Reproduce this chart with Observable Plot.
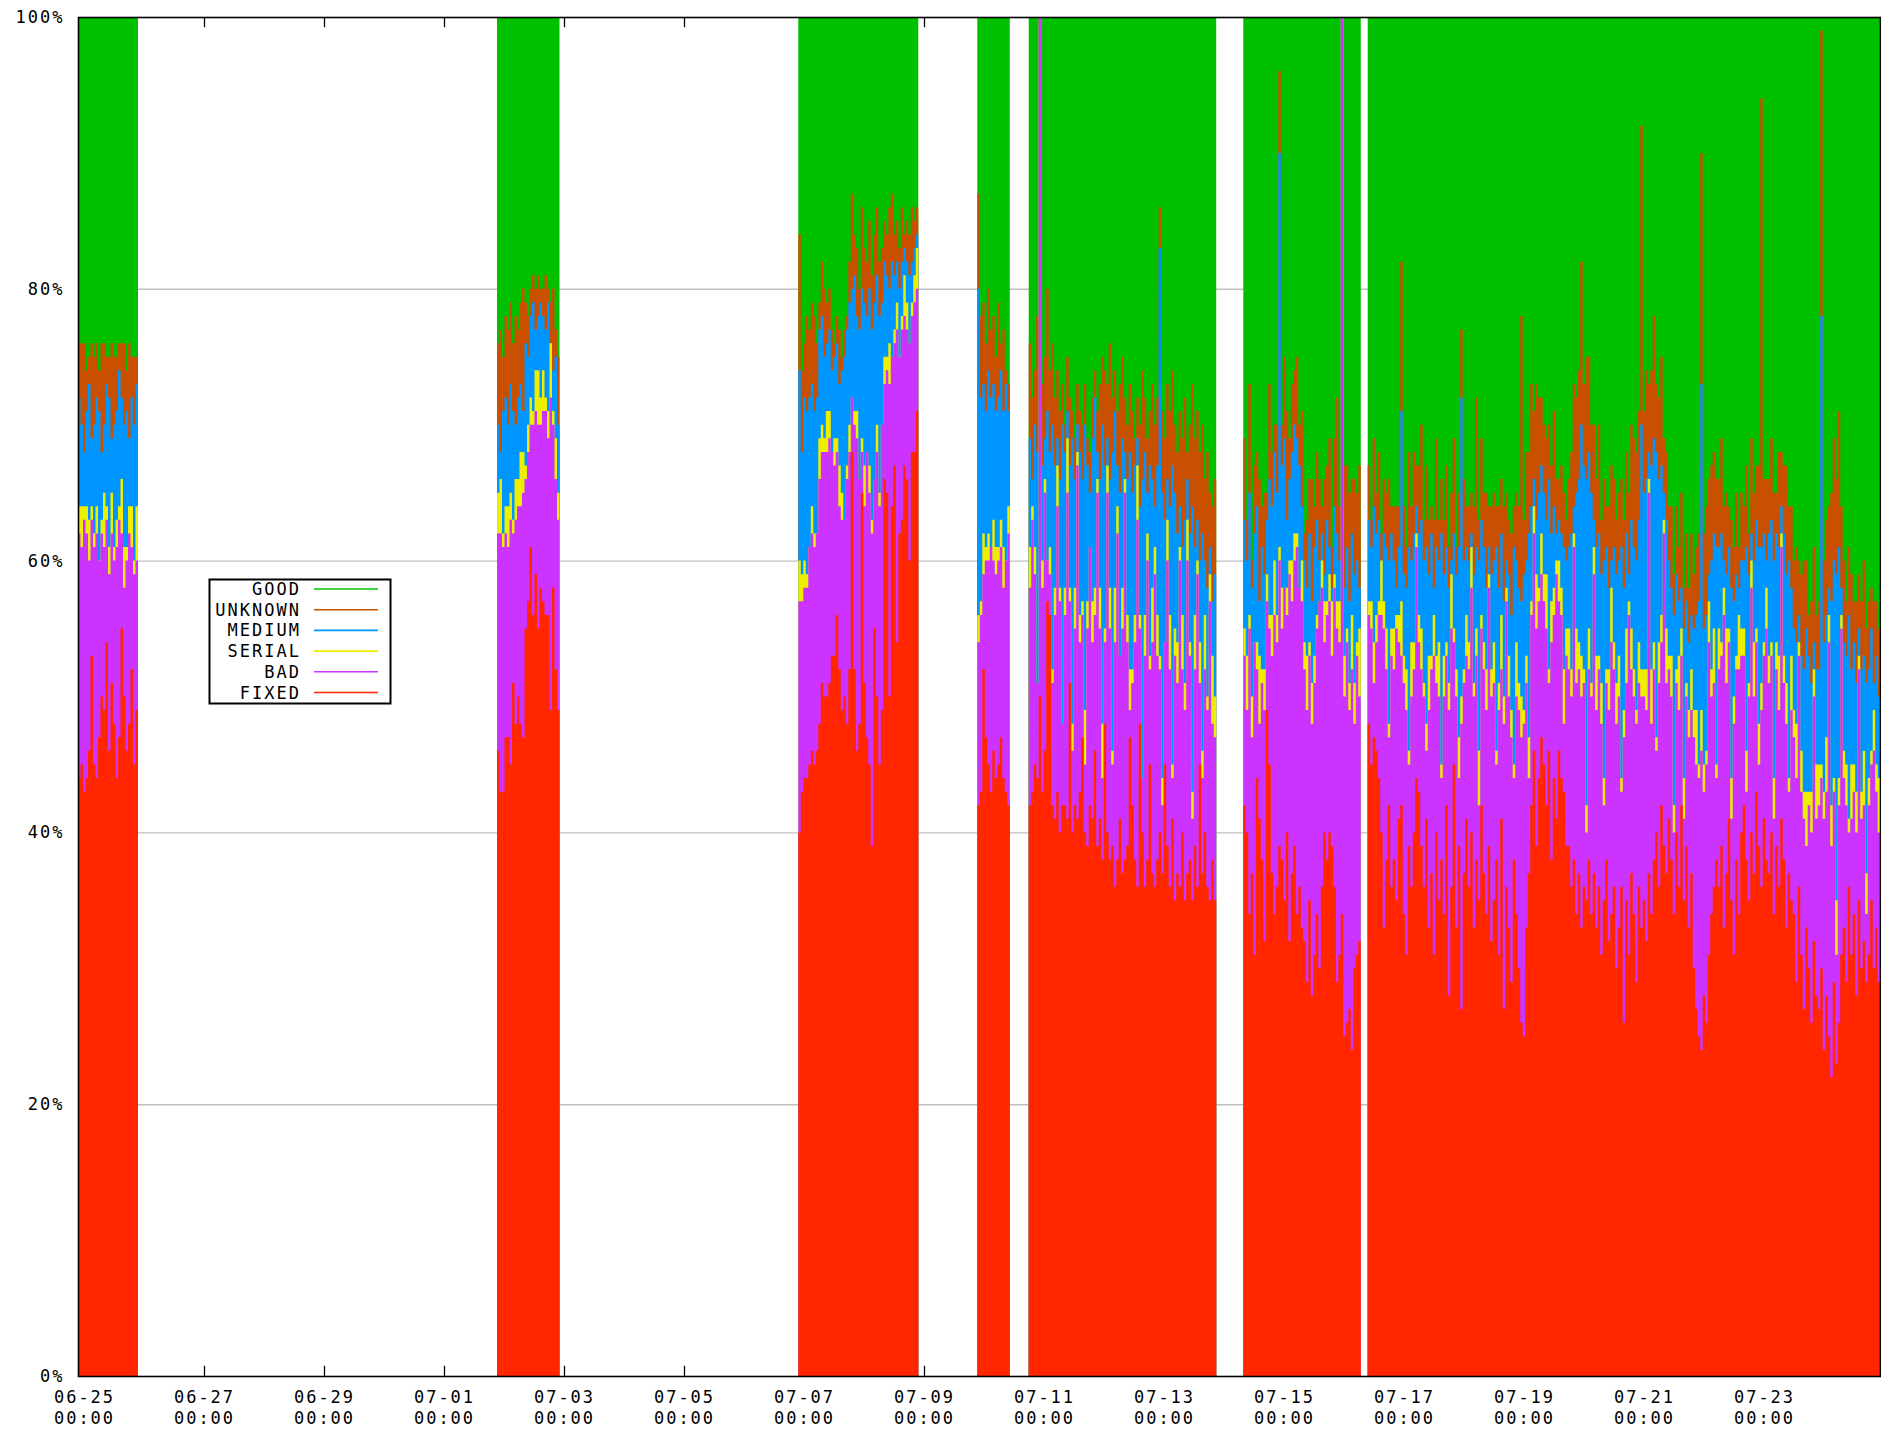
<!DOCTYPE html>
<html>
<head>
<meta charset="utf-8">
<script src="https://cdn.jsdelivr.net/npm/d3@7"></script>
<script src="https://cdn.jsdelivr.net/npm/@observablehq/plot@0.6"></script>
<style>
  html, body { margin: 0; padding: 0; background: #fff; overflow: hidden; }
  #chart svg { display: block; }
</style>
</head>
<body>
<div id="chart"></div>
<script>
// ---------- DATA (hourly shares, %) ----------
const segmentStarts = ["2013-06-24T21:36Z", "2013-07-01T21:12Z", "2013-07-06T21:43Z", "2013-07-09T21:19Z",
                       "2013-07-10T17:53Z", "2013-07-14T07:43Z", "2013-07-16T09:29Z"];
const segmentHours = [24, 25, 48, 13, 75, 47, 205];

const fixed = [
  // seg1
  44,45,43,44,46,53,45,44,47,50, 49,54,46,51,48,44,47,55,50,46, 48,52,45,49,
  // seg2
  46,43,43,47,47,45,51,48,50,48, 47,55,57,61,56,59,55,58,57,56, 56,49,58,52,49,
  // seg3
  40,43,44,44,45,46,45,46,48,51, 50,50,51,53,53,56,52,49,50,48, 52,68,52,46,48,65,51,47,45,39,
  55,50,45,49,66,65,50,64,67,54, 62,63,67,66,60,68,68,71,
  // seg4
  42,43,52,47,45,43,46,44,45,47,44,43,42,
  // seg5
  42,43,45,44,50,43,46,57,56,42, 41,43,40,42,42,41,51,40,42,41, 43,47,40,39,42,41,46,39,41,38,
  48,40,38,39,36,38,41,37,38,39, 47,42,38,36,48,40,36,38,45,37, 36,38,40,37,45,39,36,41,35,37,
  36,40,35,37,38,35,39,36,45,37, 40,36,35,38,35,
  // seg6
  42,40,34,37,31,44,41,38,32,49, 45,37,34,36,39,38,35,40,32,37, 39,34,36,33,32,29,35,28,31,34,
  30,36,40,38,40,39,36,29,31,34, 25,26,27,24,30,31,32,
  // seg7
  48,45,47,46,44,40,33,38,42,36, 38,35,41,42,34,31,39,36,40,44, 43,39,36,41,33,37,31,40,35,38,
  34,42,28,36,45,33,39,27,37,41, 36,40,33,38,35,42,37,34,39,32, 35,38,31,41,27,36,33,29,38,34,
  30,26,25,33,37,42,46,39,44,47, 45,42,46,38,44,41,46,44,43,39, 39,36,38,34,37,33,36,35,38,34,
  37,33,36,31,35,38,32,34,36,30, 33,36,26,35,31,37,34,29,36,33, 35,32,37,34,38,40,36,42,39,37,
  41,38,34,40,36,42,35,39,33,37, 30,27,25,24,28,26,31,34,36,38, 36,39,33,37,41,35,31,38,34,40,
  42,38,35,40,37,43,39,36,41,38, 37,40,34,39,36,41,38,33,37,35, 34,29,36,31,27,33,30,26,32,28,
  27,30,24,28,25,22,29,23,26,31, 33,29,36,31,34,28,35,30,32,29, 31,35,30,33,29
];
const bad = [
  18,16,20,18,14,10,16,18,13,12, 12,9,13,11,12,17,16,7,8,14, 14,9,14,11,
  16,19,18,15,14,18,11,15,14,16, 18,11,11,9,14,12,15,12,14,15, 13,23,12,14,14,
  17,14,14,14,16,16,16,16,18,17, 18,18,18,15,14,12,12,14,13,18, 16,4,18,23,18,3,13,21,20,23,
  11,18,19,21,7,9,23,11,9,23, 13,14,11,11,16,10,11,9,
  12,13,7,13,15,18,14,15,15,14,14,17,20,
  16,20,14,7,50,15,19,3,3,9, 15,21,17,6,14,24,6,6,13,26, 11,9,5,16,19,13,10,26,14,6,
  6,25,17,6,18,24,12,18,27,15, 2,9,16,27,7,4,17,22,7,17, 23,15,12,5,9,21,16,3,18,14,
  24,12,14,23,15,6,13,23,6,7, 12,13,22,10,12,
  11,9,21,10,23,8,7,13,17,8, 10,16,22,18,21,17,23,16,27,20, 21,27,22,24,20,20,18,20,20,21,
  27,22,14,18,17,14,22,26,23,66, 25,28,22,28,18,22,18,
  8,10,4,8,12,16,22,14,5,17, 14,20,13,11,17,18,6,14,12,17, 11,13,14,5,16,15,22,11,15,6,
  16,11,21,19,9,17,5,21,14,12, 16,18,17,15,7,13,15,15,19,18, 16,7,18,11,21,21,17,18,6,16,
  19,21,23,18,7,14,16,16,13,12, 12,13,5,16,12,18,11,12,5,14, 13,14,23,17,15,17,15,5,14,16,
  22,16,16,17,7,13,17,20,16,18, 17,7,21,16,25,15,16,19,15,17, 15,17,28,14,14,6,15,12,23,14,
  11,12,6,11,13,11,6,11,14,12, 17,18,19,22,15,19,23,16,15,6, 16,14,23,14,13,6,17,14,18,13,
  11,5,15,18,13,11,6,13,12,17, 14,13,7,13,13,20,13,15,6,14, 13,15,17,12,14,6,12,14,18,13,
  15,14,17,15,29,17,14,8,16,24, 11,13,4,10,9,12,17,11,10,5, 11,10,16,10,11
];
const serial = [
  2,3,1,2,3,1,1,2,0,1, 4,1,2,3,1,2,1,4,3,1, 2,3,1,4,
  3,4,1,2,3,2,1,3,2,4, 3,1,2,2,1,3,4,2,3,1, 2,4,1,3,2,
  3,2,2,1,0,2,1,0,3,2, 1,3,2,0,2,1,3,2,0,1, 2,0,1,2,0,1,3,0,2,1,
  0,2,1,0,2,1,3,0,1,2, 0,1,3,2,0,1,2,3,
  2,1,3,1,2,0,3,2,1,2,3,0,2,
  3,1,2,0,0,2,1,0,2,1, 2,3,1,0,2,4,1,2,3,1, 2,1,4,2,0,3,2,1,3,4,
  1,2,3,1,4,2,0,3,1,2, 3,1,2,4,1,0,3,2,1,4, 2,3,1,2,0,3,4,1,2,3,
  1,4,2,3,1,2,4,1,3,2, 4,1,2,5,3,
  2,4,1,3,0,2,5,1,3,2, 1,3,4,2,1,3,0,2,1,3, 2,1,0,3,2,4,1,3,2,1,
  0,2,3,1,2,4,1,2,3,0, 3,1,2,4,3,1,5,
  1,2,3,2,1,4,2,3,1,2, 3,1,2,4,2,3,1,4,2,1, 2,3,1,2,4,1,3,2,4,1,
  3,1,2,4,1,2,3,2,1,3, 2,3,1,2,4,1,2,3,1,2, 3,1,2,4,2,1,3,2,1,4,
  2,3,1,2,3,1,2,4,1,3, 2,4,1,3,2,1,3,2,4,2, 3,2,1,4,2,3,1,2,3,1,
  2,4,1,3,2,1,3,4,2,3, 3,1,2,4,1,3,2,1,3,2, 2,3,1,4,2,1,3,2,1,4,
  1,3,2,1,4,2,3,1,2,3, 2,4,1,3,2,1,3,2,4,1, 3,1,2,4,1,3,2,1,4,2,
  2,3,1,2,4,1,3,2,1,3, 2,1,3,2,4,1,2,3,1,4, 2,4,1,3,2,4,1,3,2,4,
  3,1,2,4,2,3,1,4,2,1, 2,3,1,4,2,3,1,2,4,3, 2,1,3,2,4
];
const medium = [
  8,6,4,7,10,5,8,8,11,5, 5,9,11,4,9,8,10,6,9,10, 5,8,10,9,
  5,2,9,8,6,8,8,4,6,5, 3,9,5,6,8,3,4,7,4,5, 8,0,3,6,5,
  14,9,12,12,11,9,9,10,8,8, 6,5,6,6,6,7,6,9,12,10, 9,8,10,7,11,11,12,10,13,14,
  13,11,13,9,7,6,4,7,4,3, 5,4,2,3,5,3,2,1,
  24,15,11,10,12,11,10,10,11,11,10,13,7,
  8,2,9,17,0,7,3,11,7,18, 9,2,8,22,10,2,9,21,8,2, 12,9,21,10,4,12,14,2,8,22,
  12,2,8,22,13,3,12,11,2,10, 16,13,11,2,8,22,12,3,14,8, 3,11,30,21,9,3,8,22,10,8,
  3,5,12,3,8,21,5,3,6,16, 4,8,2,4,9,
  8,7,9,8,8,10,4,9,7,4, 10,8,8,9,29,9,11,5,6,8, 8,7,9,4,6,5,8,6,8,7,
  3,2,2,6,2,1,5,5,3,0, 5,6,6,6,8,6,3,
  6,4,10,6,6,0,5,6,12,7, 5,2,5,14,6,6,15,6,8,2, 6,8,9,13,6,9,2,8,6,17,
  6,7,7,1,7,7,14,22,8,5, 6,1,8,6,14,7,7,6,2,7, 6,15,7,6,7,2,6,7,16,6,
  7,7,10,7,15,7,2,4,7,5, 6,4,14,5,6,2,3,4,9,5, 6,10,2,10,12,17,15,24,13,14,
  2,8,9,8,16,9,6,2,7,8, 7,17,9,7,2,8,9,11,9,18, 13,14,2,15,15,21,12,11,2,8,
  7,5,14,7,4,3,11,6,5,4, 6,7,12,24,10,10,2,8,7,16, 6,8,2,4,6,14,7,6,2,5,
  5,15,8,2,6,8,13,10,8,2, 9,9,16,8,8,2,9,8,16,5, 6,6,2,7,9,12,10,8,2,7,
  7,33,11,9,2,15,16,24,17,2, 8,8,15,7,9,8,2,9,7,14, 8,9,2,8,6
];
const unknown = [
  4,6,8,3,2,7,5,4,3,8, 6,2,3,7,5,4,2,4,6,3, 7,3,5,2,
  6,9,4,6,7,6,5,8,5,6, 9,3,3,2,2,3,3,1,2,4, 1,3,6,2,5,
  10,6,4,7,5,6,7,4,2,4, 5,3,3,3,1,2,4,1,2,1, 3,7,3,5,3,6,4,4,5,4,
  5,5,4,4,3,3,6,5,3,3, 3,4,1,3,3,4,2,2,
  7,6,6,5,6,5,5,4,7,2,6,1,2,
  7,6,4,10,0,6,6,9,6,6, 5,5,5,3,2,4,5,2,3,3, 3,4,3,2,3,3,2,3,7,5,
  7,4,10,4,3,4,8,6,4,4, 5,6,2,3,6,8,4,4,4,7, 6,5,3,6,6,7,7,7,5,6,
  7,8,9,2,8,9,8,8,8,8, 6,10,4,7,7,
  6,3,8,2,5,4,9,3,6,2, 7,4,2,5,6,3,6,8,3,5, 4,6,3,7,2,5,4,9,3,5,
  6,2,7,4,8,3,5,10,4,0, 9,6,8,4,7,5,9,
  4,2,5,3,5,2,4,4,6,2, 4,6,3,11,5,3,7,4,6,3, 5,7,3,6,4,2,5,8,3,4,
  4,6,3,5,7,2,4,5,6,3, 4,3,5,11,3,6,4,7,3,5, 5,3,6,4,7,5,4,6,3,5,
  6,21,4,8,6,9,5,10,7,5, 5,6,4,5,7,4,3,5,4,3, 5,6,9,7,8,12,6,9,7,5,
  7,5,8,4,6,3,6,7,5,4, 5,5,5,6,6,7,8,8,8,22, 6,8,5,7,9,5,6,8,4,5,
  4,6,3,5,4,7,3,5,4,6, 4,5,5,17,7,8,7,7,6,5, 5,7,4,6,3,5,4,6,3,5,
  4,6,3,7,5,4,6,33,4,6, 4,6,5,3,7,4,5,8,4,6, 5,7,4,6,8,5,3,6,7,4,
  5,21,6,7,6,8,9,7,10,6, 6,4,5,7,3,6,4,5,7,4, 5,3,6,4,5
];

const seriesNames = ["FIXED", "BAD", "SERIAL", "MEDIUM", "UNKNOWN", "GOOD"]; // bottom -> top
const seriesColors = ["#ff2600", "#cc33ff", "#eeee00", "#0096ff", "#c85000", "#00c000"];
const legendOrder = ["GOOD", "UNKNOWN", "MEDIUM", "SERIAL", "BAD", "FIXED"];
const yTicks = [0, 20, 40, 60, 80, 100];
const xTickDates = ["2013-06-25", "2013-06-27", "2013-06-29", "2013-07-01", "2013-07-03", "2013-07-05",
                    "2013-07-07", "2013-07-09", "2013-07-11", "2013-07-13", "2013-07-15", "2013-07-17",
                    "2013-07-19", "2013-07-21", "2013-07-23"];
const xDomain = ["2013-06-24T21:36Z", "2013-07-24T22:24Z"];

// ---------- BUILD ----------
const HOUR = 3600e3;
const values = {FIXED: fixed, BAD: bad, SERIAL: serial, MEDIUM: medium, UNKNOWN: unknown};
const total = segmentHours.reduce((a, b) => a + b, 0);
const problems = Object.entries(values).filter(([k, v]) => v.length !== total).map(([k, v]) => k + ":" + v.length);

const rows = [];
let idx = 0;
segmentStarts.forEach((s, si) => {
  const t0 = new Date(s).getTime();
  const n = segmentHours[si];
  for (let k = 0; k <= n; k++) {
    const j = idx + Math.min(k, n - 1);
    let cum = 0;
    for (const name of seriesNames) {
      const v = name === "GOOD" ? 100 - cum : values[name][j];
      cum += v;
      rows.push({t: new Date(t0 + k * HOUR), series: name, top: cum, seg: si});
    }
  }
  idx += n;
});

const font = "DejaVu Sans Mono";
const xTicks = xTickDates.map(d => new Date(d + "T00:00Z"));
const fmt = d3.utcFormat("%m-%d\n%H:%M");

const areaMarks = seriesNames.slice().reverse().map(name =>
  Plot.areaY(rows.filter(d => d.series === name), {
    x: "t", y1: 0, y2: "top", z: "seg",
    fill: seriesColors[seriesNames.indexOf(name)], curve: "step-after"
  })
);

const chart = Plot.plot({
  width: 1881,
  height: 1431,
  marginLeft: 78,
  marginRight: 1,
  marginTop: 17,
  marginBottom: 55,
  x: {type: "utc", domain: xDomain.map(d => new Date(d))},
  y: {domain: [0, 100]},
  style: {fontFamily: font, fontSize: "17px", letterSpacing: "2px", color: "#000", background: "#fff"},
  marks: [
    Plot.ruleY(yTicks.slice(1, -1), {stroke: "#c0c0c0", strokeWidth: 1.4}),
    Plot.ruleX(xTicks, {y1: 0, y2: 0.75, stroke: "#000", strokeWidth: 1.3}),
    Plot.ruleX(xTicks, {y1: 100, y2: 99.25, stroke: "#000", strokeWidth: 1.3}),
    ...areaMarks,
    Plot.axisY({ticks: yTicks, tickFormat: d => d + "%", tickSize: 0, tickPadding: 14, label: null, fontSize: 17}),
    Plot.axisX({ticks: xTicks, tickFormat: fmt, tickSize: 0, tickPadding: 11, label: null, fontSize: 17, lineHeight: 1.25}),
    Plot.frame({stroke: "#000", strokeWidth: 1.6})
  ]
});

// legend (inside plot area)
const svg = d3.select(chart);
const lg = svg.append("g").attr("font-family", font).attr("font-size", 17).attr("letter-spacing", "2px");
lg.append("rect").attr("x", 209.5).attr("y", 579.5).attr("width", 181).attr("height", 124)
  .attr("fill", "#fff").attr("stroke", "#000").attr("stroke-width", 2);
legendOrder.forEach((name, k) => {
  const y = 589 + 20.7 * k;
  lg.append("text").attr("x", 301).attr("y", y).attr("text-anchor", "end")
    .attr("dominant-baseline", "central").attr("fill", "#000").text(name);
  lg.append("line").attr("x1", 314).attr("x2", 378).attr("y1", y).attr("y2", y)
    .attr("stroke", seriesColors[seriesNames.indexOf(name)]).attr("stroke-width", 1.6);
});
if (problems.length) {
  svg.append("text").attr("x", 600).attr("y", 400).attr("fill", "red").attr("font-size", 30).text("LEN " + total + " " + problems.join(" "));
}
document.getElementById("chart").appendChild(chart);
</script>
</body>
</html>
